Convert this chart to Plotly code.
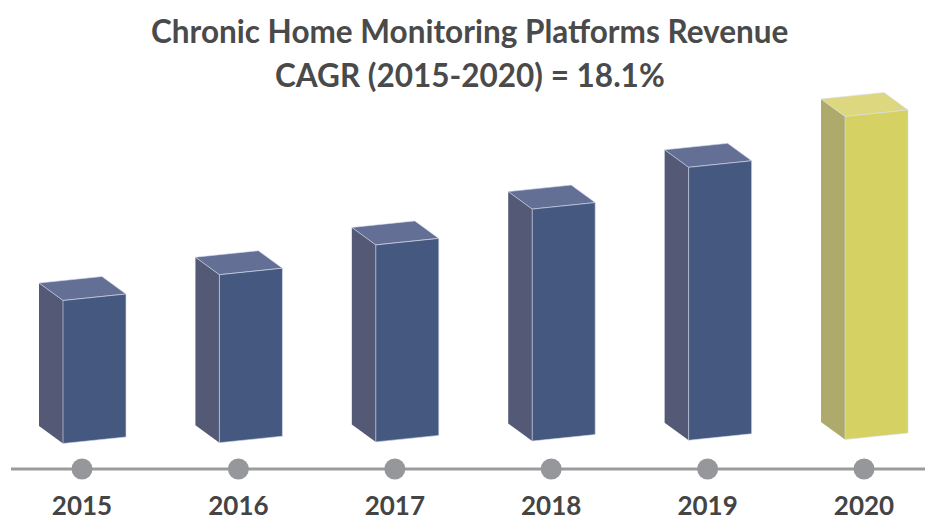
import plotly.graph_objects as go

# ---- data (relative revenue, no axis shown) ----
years = ["2015", "2016", "2017", "2018", "2019", "2020"]
revenue = [143, 168, 197, 232, 273, 323]
title_line1 = "Chronic Home Monitoring Platforms Revenue"
title_line2 = "CAGR (2015-2020) = 18.1%"

# ---- styling ----
FRONT = ["#455880"] * 5 + ["#d6d163"]
SIDE = ["#545a76"] * 5 + ["#aeaa6c"]
TOP = ["#646f95"] * 5 + ["#ddd880"]
EDGE = "rgba(215,222,240,0.75)"
TEXT = "#444444"

W_PX, H_PX = 925, 525
X0, X1 = -0.5243, 5.3899          # x-axis range (category units)
Y0, Y1 = -81.5, 443.5             # y-axis range (value units)
PXX = W_PX / (X1 - X0)            # px per category unit
PXY = H_PX / (Y1 - Y0)            # px per value unit


def dx(p):
    return p / PXX


def dy(p):
    return p / PXY


fig = go.Figure()

# 3D-looking boxes
FRONT_OFF = -19   # px, front face left edge relative to category centre
FW = (63, 6.5)    # front width vector (px right, px up)
DP = (-24, 17.5)  # depth vector (px right, px up)
for i, v in enumerate(revenue):
    base = dy(0.8 * i)
    px_, py_ = i + dx(FRONT_OFF), base
    wx, wy = dx(FW[0]), dy(FW[1])
    ddx, ddy = dx(DP[0]), dy(DP[1])
    P = (px_, py_)
    PW = (px_ + wx, py_ + wy)
    PD = (px_ + ddx, py_ + ddy)
    PWD = (px_ + wx + ddx, py_ + wy + ddy)

    def up(pt):
        return (pt[0], pt[1] + v)

    faces = [
        ([P, PD, up(PD), up(P)], SIDE[i], "rgba(0,0,0,0)"),
        ([up(P), up(PW), up(PWD), up(PD)], TOP[i], EDGE),
        ([P, PW, up(PW), up(P)], FRONT[i], EDGE),
    ]
    for pts, col, lc in faces:
        xs = [p[0] for p in pts] + [pts[0][0]]
        ys = [p[1] for p in pts] + [pts[0][1]]
        fig.add_trace(go.Scatter(
            x=xs, y=ys, mode="lines", fill="toself", fillcolor=col,
            line=dict(color=lc, width=0.8), hoverinfo="skip", showlegend=False,
        ))

# timeline
LINE_Y = -25.5
fig.add_trace(go.Scatter(
    x=[X0 + dx(11), X1], y=[LINE_Y, LINE_Y], mode="lines",
    line=dict(color="#9b9b9f", width=3), hoverinfo="skip", showlegend=False,
))
fig.add_trace(go.Scatter(
    x=list(range(len(years))), y=[LINE_Y] * len(years), mode="markers",
    marker=dict(size=21, color="#96979b", line=dict(width=0)),
    hoverinfo="skip", showlegend=False,
))
# year labels
fig.add_trace(go.Scatter(
    x=list(range(len(years))), y=[-65] * len(years), mode="text",
    text=years, textposition="middle center", cliponaxis=False,
    textfont=dict(family="Lato", size=26, color=TEXT, weight="bold"),
    hoverinfo="skip", showlegend=False,
))

fig.add_annotation(x=0.508, y=1 - 31 / H_PX, xref="paper", yref="paper",
                   text=title_line1, showarrow=False,
                   font=dict(family="Lato", size=31.5, color="#4a4a4a", weight="bold"),
                   xanchor="center", yanchor="middle")
fig.add_annotation(x=0.508, y=1 - 75 / H_PX, xref="paper", yref="paper",
                   text=title_line2, showarrow=False,
                   font=dict(family="Lato", size=31.5, color="#4a4a4a", weight="bold"),
                   xanchor="center", yanchor="middle")

fig.update_layout(
    width=W_PX, height=H_PX,
    margin=dict(l=0, r=0, t=0, b=0),
    paper_bgcolor="white", plot_bgcolor="white",
    xaxis=dict(range=[X0, X1], visible=False, fixedrange=True),
    yaxis=dict(range=[Y0, Y1], visible=False, fixedrange=True),
    showlegend=False,
)

fig.write_html("out.html", config={"displayModeBar": False},
               post_script="document.body.style.margin='0';document.body.style.overflow='hidden';")
